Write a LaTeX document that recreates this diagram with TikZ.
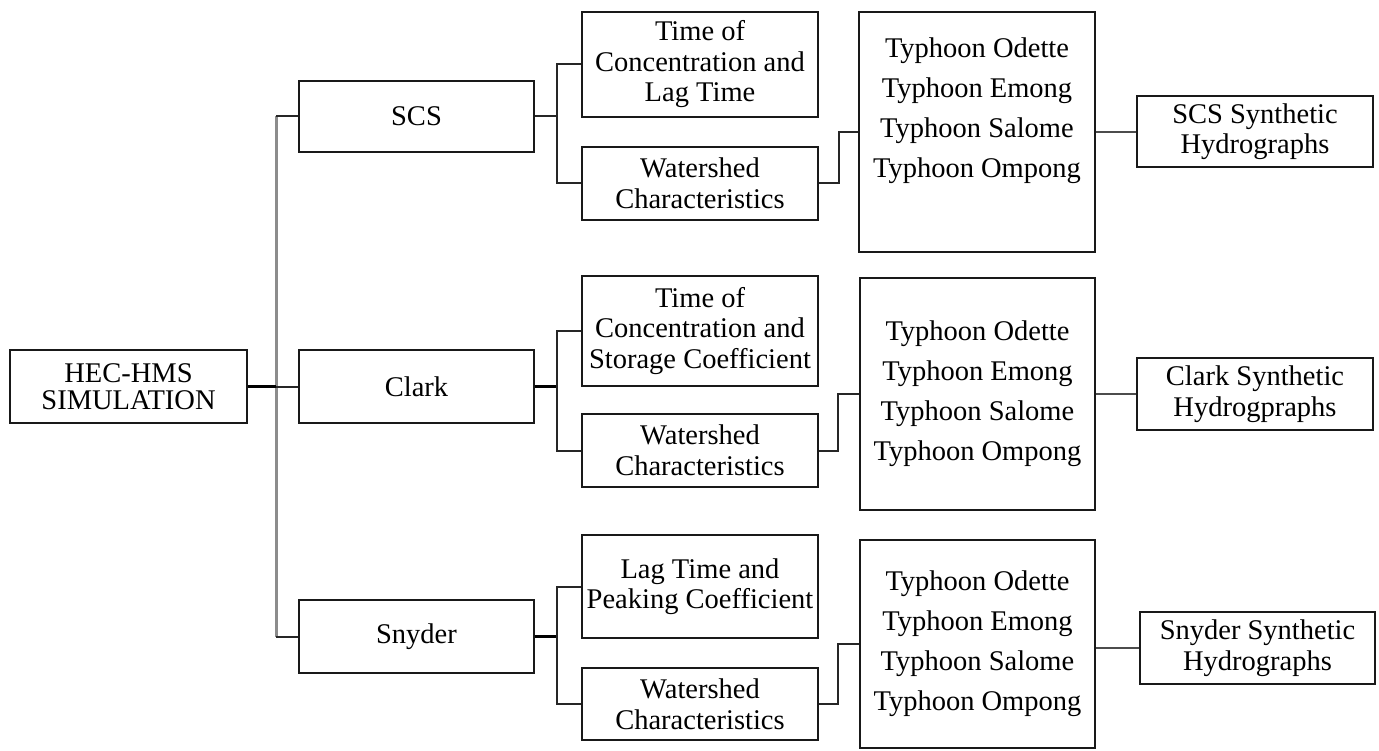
\documentclass[tikz,border=0pt]{standalone}
\usepackage{fontspec}
\setmainfont{Liberation Serif}
\begin{document}
\begin{tikzpicture}[x=1pt,y=-1pt,
  box/.style={draw=black!90, line width=2.2pt, inner sep=0pt, align=center, font=\fontsize{28.5}{30.5}\selectfont},
  list/.style={box, font=\fontsize{28.5}{40}\selectfont},
  conn/.style={line width=2pt, draw=black!85},
  thickconn/.style={line width=3.4pt, draw=black},
  trunk/.style={line width=3pt, draw=black!45}]
\useasboundingbox (0,0) rectangle (1379,751);
% root
\node[box, minimum width=237pt, minimum height=73pt, font=\fontsize{28.5}{26.5}\selectfont] (hec) at (128.5,386.5) {HEC-HMS\\SIMULATION};
% level 1
\node[box, minimum width=235pt, minimum height=71pt] (scs) at (416.5,116.5) {SCS};
\node[box, minimum width=235pt, minimum height=73pt] (clark) at (416.5,386.5) {Clark};
\node[box, minimum width=235pt, minimum height=73pt] (snyder) at (416.5,636.5) {Snyder};
% level 2
\node[box, minimum width=236pt, minimum height=105pt] (t1) at (700,64.5) {Time of\\Concentration and\\Lag Time};
\node[box, minimum width=236pt, minimum height=73pt] (w1) at (700,183.5) {Watershed\\Characteristics};
\node[box, minimum width=236pt, minimum height=110pt] (t2) at (700,331) {Time of\\Concentration and\\Storage Coefficient};
\node[box, minimum width=236pt, minimum height=73pt] (w2) at (700,450.5) {Watershed\\Characteristics};
\node[box, minimum width=236pt, minimum height=103pt] (t3) at (700,586.5) {Lag Time and\\Peaking Coefficient};
\node[box, minimum width=236pt, minimum height=72pt] (w3) at (700,704) {Watershed\\Characteristics};
% typhoon lists
\node[list, minimum width=236pt, minimum height=240pt] (ty1) at (977,132) {Typhoon Odette\\Typhoon Emong\\Typhoon Salome\\Typhoon Ompong\\[8pt]};
\node[list, minimum width=235pt, minimum height=232pt] (ty2) at (977.5,394) {Typhoon Odette\\Typhoon Emong\\Typhoon Salome\\Typhoon Ompong};
\node[list, minimum width=235pt, minimum height=208pt] (ty3) at (977.5,644) {Typhoon Odette\\Typhoon Emong\\Typhoon Salome\\Typhoon Ompong};
% synthetic hydrographs
\node[box, minimum width=236pt, minimum height=71pt] (s1) at (1255,131.5) {SCS Synthetic\\Hydrographs};
\node[box, minimum width=236pt, minimum height=72pt] (s2) at (1255,394) {Clark Synthetic\\Hydrogpraphs};
\node[box, minimum width=235pt, minimum height=72pt] (s3) at (1257.5,648) {Snyder Synthetic\\Hydrographs};
% trunk
\coordinate (tk) at (276,386.5);
\draw[trunk] (tk |- scs.west) -- (tk |- snyder.west);
\draw[thickconn] (hec.east) -- (tk);
\draw[conn] (tk |- scs.west) -- (scs.west);
\draw[conn] (tk) -- (clark.west);
\draw[conn] (tk |- snyder.west) -- (snyder.west);
% brackets
\path (t1.west) ++(-24,0) coordinate (b1);
\path (t2.west) ++(-24,0) coordinate (b2);
\path (t3.west) ++(-24,0) coordinate (b3);
\draw[conn] (scs.east) -- (scs.east -| b1);
\draw[thickconn] (clark.east) -- (clark.east -| b2);
\draw[thickconn] (snyder.east) -- (snyder.east -| b3);
\draw[conn] (t1.west) -- (b1) |- (w1.west);
\draw[conn] (t2.west) -- (b2) |- (w2.west);
\draw[conn] (t3.west) -- (b3) |- (w3.west);
% to typhoon lists
\draw[conn] (w1.east) -- ++(20,0) |- (ty1.west);
\draw[conn] (w2.east) -- ++(19,0) |- (ty2.west);
\draw[conn] (w3.east) -- ++(19,0) |- (ty3.west);
% to synthetic hydrographs
\draw[conn, draw=black!70] (ty1.east) -- (ty1.east -| s1.west);
\draw[conn, draw=black!70] (ty2.east) -- (ty2.east -| s2.west);
\draw[conn, draw=black!70] (s3.west -| ty3.east) -- (s3.west);
\end{tikzpicture}
\end{document}
